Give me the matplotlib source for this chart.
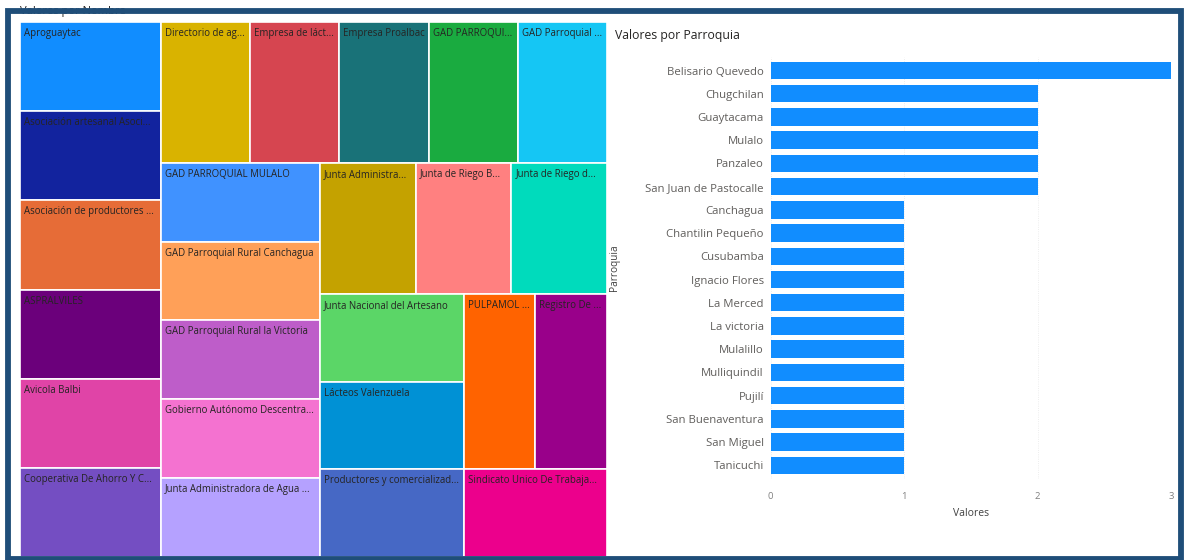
import matplotlib
matplotlib.use('Agg')
import matplotlib.pyplot as plt
from matplotlib.patches import Rectangle

plt.rcParams['font.family'] = ['Open Sans', 'DejaVu Sans']

# treemap data (all organisations have value 1)
nombres = ['Aproguaytac', 'Asociación artesanal Asoci...', 'Asociación de productores ...',
           'ASPRALVILES', 'Avicola Balbi', 'Cooperativa De Ahorro Y C...',
           'Directorio de ag...', 'Empresa de láct...', 'Empresa Proalbac',
           'GAD PARROQUI...', 'GAD Parroquial ...', 'GAD PARROQUIAL MULALO',
           'GAD Parroquial Rural Canchagua', 'GAD Parroquial Rural la Victoria',
           'Gobierno Autónomo Descentra...', 'Junta Administradora de Agua ...',
           'Junta Administra...', 'Junta de Riego B...', 'Junta de Riego d...',
           'Junta Nacional del Artesano', 'Lácteos Valenzuela',
           'Productores y comercializad...', 'PULPAMOL ...', 'Registro De ...',
           'Sindicato Unico De Trabaja...']
valores_nombre = [1] * len(nombres)
colores = ['#118DFF', '#12239E', '#E66C37', '#6B007B', '#E044A7', '#744EC2',
           '#D9B300', '#D64550', '#197278', '#1AAB40', '#15C6F4', '#4092FF',
           '#FFA058', '#BE5DC9', '#F472D0', '#B5A1FF', '#C4A200', '#FF8080',
           '#00DBBC', '#5BD667', '#0091D5', '#4668C5', '#FF6300', '#99008A',
           '#EC008C']

# bar chart data
parroquias = ['Belisario Quevedo', 'Chugchilan', 'Guaytacama', 'Mulalo', 'Panzaleo',
              'San Juan de Pastocalle', 'Canchagua', 'Chantilin Pequeño', 'Cusubamba',
              'Ignacio Flores', 'La Merced', 'La victoria', 'Mulalillo', 'Mulliquindil',
              'Pujilí', 'San Buenaventura', 'San Miguel', 'Tanicuchi']
valores_parroquia = [3, 2, 2, 2, 2, 2, 1, 1, 1, 1, 1, 1, 1, 1, 1, 1, 1, 1]


def squarify(values, x0, y0, x1, y1, ratio=(1 + 5 ** 0.5) / 2):
    # port of d3 treemapSquarify
    rects = []
    total = float(sum(values))
    n = len(values)
    i0 = 0
    while i0 < n:
        dx, dy = x1 - x0, y1 - y0
        i1 = i0 + 1
        s = values[i0]
        vmin = vmax = s
        alpha = max(dy / dx, dx / dy) / (total * ratio)
        beta = s * s * alpha
        best = max(vmax / beta, beta / vmin)
        while i1 < n:
            v = values[i1]
            s2 = s + v
            beta = s2 * s2 * alpha
            r = max(max(vmax, v) / beta, beta / min(vmin, v))
            if r > best:
                break
            s, best = s2, r
            vmin, vmax = min(vmin, v), max(vmax, v)
            i1 += 1
        row = values[i0:i1]
        if dx < dy:
            h = dy * s / total
            xx = x0
            for v in row:
                w = dx * v / s
                rects.append((xx, y0, w, h))
                xx += w
            y0 += h
        else:
            w = dx * s / total
            yy = y0
            for v in row:
                h = dy * v / s
                rects.append((x0, yy, w, h))
                yy += h
            x0 += w
        total -= s
        i0 = i1
    return rects


W, H = 1184, 560
fig = plt.figure(figsize=(W / 100, H / 100), dpi=100)
fig.patch.set_facecolor('white')


def px(l, t, r, b):
    return [l / W, 1 - b / H, (r - l) / W, (b - t) / H]


# treemap
tw, th = 587, 535
ax1 = fig.add_axes(px(20, 22, 20 + tw, 22 + th))
for (x, y, w, h), nm, c in zip(squarify(valores_nombre, 0, 0, tw, th), nombres, colores):
    ax1.add_patch(Rectangle((x, y), w, h, facecolor=c, edgecolor='white', lw=1.2))
    ax1.text(x + 4, y + 6, nm, fontsize=6.9, color='#252423', va='top', ha='left')
ax1.set_xlim(0, tw)
ax1.set_ylim(th, 0)
ax1.axis('off')
fig.text(20 / W, 1 - 17 / H, 'Valores por Nombre', fontsize=8, color='#252423',
         va='bottom', ha='left')

# bar chart
ax2 = fig.add_axes(px(770.7, 56.6, 1171, 479.2))
ypos = list(range(len(parroquias)))
ax2.barh(ypos, valores_parroquia, height=0.75, color='#118DFF')
ax2.set_xlim(0, 3)
ax2.set_ylim(len(parroquias) - 0.4, -0.6)
ax2.set_yticks(ypos)
ax2.set_yticklabels(parroquias)
ax2.set_xticks([0, 1, 2, 3])
ax2.tick_params(axis='y', length=0, pad=5, labelsize=8.2, labelcolor='#605E5C')
ax2.tick_params(axis='x', length=0, pad=9, labelsize=6.8, labelcolor='#808080')
for s in ax2.spines.values():
    s.set_visible(False)
ax2.grid(axis='x', color='#e8e8e8', lw=0.6, ls=':')
ax2.set_axisbelow(True)
ax2.set_xlabel('Valores', fontsize=7.5, color='#404040', labelpad=5)
ax2.set_ylabel('Parroquia', fontsize=7.3, color='#404040')
ax2.yaxis.set_label_coords(-(770.7 - 620) / (1171 - 770.7), 0.5)
fig.text(615 / W, 1 - 36 / H, 'Valores por Parroquia', fontsize=8.8, color='#252423',
         va='center', ha='left')

# outer frame
fig.patches.append(Rectangle((8 / W, 1.5 / H), (1181 - 8) / W, (H - 10.5 - 1.5) / H,
                             transform=fig.transFigure, fill=False,
                             edgecolor='#1f4e79', lw=4.2, zorder=10))

fig.savefig('out.png', dpi=100)
